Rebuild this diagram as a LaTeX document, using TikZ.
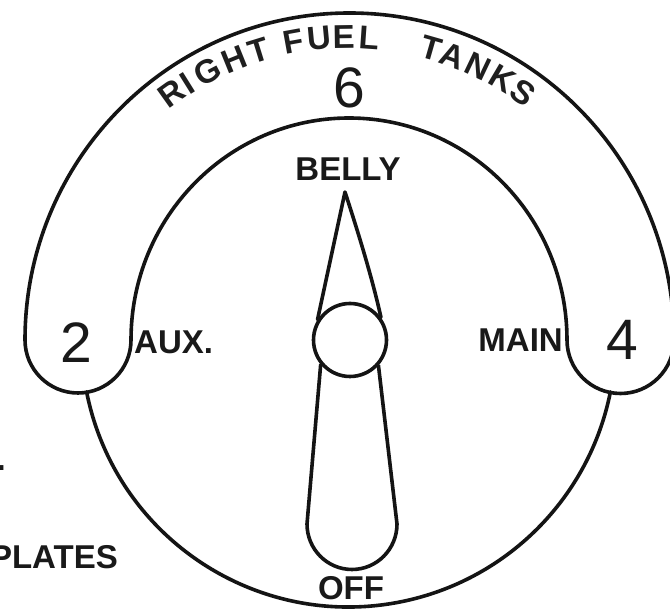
\documentclass[tikz,border=0pt]{standalone}
\usepackage{fontspec}
\setmainfont{Liberation Sans}
\tikzset{
  ink/.style={draw=black!92,line width=3.6pt,line join=round,line cap=round},
  bigtxt/.style={inner sep=0pt,text=black!90,font=\fontsize{57}{57}\selectfont},
  lettering/.style={inner sep=0pt,text=black!88,font=\fontsize{33}{33}\selectfont\bfseries},
  label/.style={inner sep=0pt,text=black!90,font=\fontsize{33}{33}\selectfont\bfseries},
}
\begin{document}
\begin{tikzpicture}[x=1pt,y=1pt]
\useasboundingbox (0,0) rectangle (670,612);
\clip (0,0) rectangle (670,612);
\fill[white] (0,0) rectangle (670,612);
% tank band
\draw[ink] (25,272) arc[start angle=180,end angle=0,x radius=324.5,y radius=327]
  arc[start angle=0,end angle=-180,radius=53.5]
  arc[start angle=0,end angle=180,x radius=218,y radius=222]
  arc[start angle=0,end angle=-180,radius=53] -- cycle;
% lower dial arc
\draw[ink] ({348.5+267*cos(191.2)},{272+267*sin(191.2)})
  arc[start angle=191.2,end angle=348.8,radius=267];
% selector pointer
\node[ink,circle,minimum size=73pt,inner sep=0pt] (hub) at (350,272) {};
\draw[ink] (hub.148) -- (345,420) .. controls (358,380) and (372,335) .. (hub.36);
\draw[ink] (hub.-140) -- (307,88) arc[start angle=180,end angle=360,x radius=45,y radius=45.5]
  -- (hub.-42);
% lettering
\foreach \c/\a [count=\i] in {R/-35.5,I/-32,G/-27.6,H/-22,T/-17.2,F/-10.3,U/-5.5,E/-.8,L/4,T/16,A/20.2,N/25.5,K/30.6,S/35.3}{
  \node[lettering,rotate=-\a] (let\i) at ({348+303*sin(\a)},{272+303*cos(\a)}) {\c};
}
\node[bigtxt] (six) at (349,524) {6};
\node[bigtxt] (two) at (76,269) {2};
\node[bigtxt] (four) at (622,272) {4};
\node[label] (belly) at (348,443) {BELLY};
\node[label,anchor=east] (main) at (563,272) {MAIN};
\node[label,anchor=west] (aux) at (134,270) {AUX.};
\node[label] (off) at (351,24) {OFF};
\node[label,anchor=east] (plates) at (118,55) {PLATES};
\node[label,anchor=east] (dot) at (6,144) {.};
\end{tikzpicture}
\end{document}
